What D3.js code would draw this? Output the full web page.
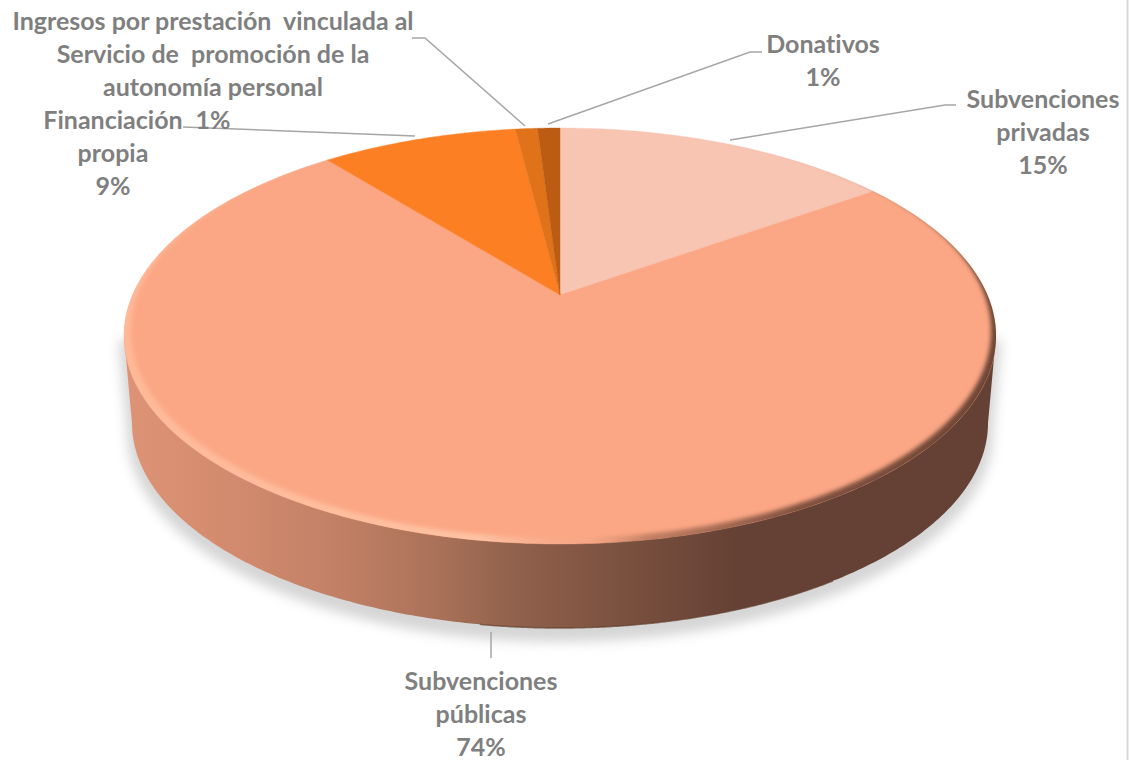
<!DOCTYPE html>
<html><head><meta charset="utf-8">
<style>html,body{margin:0;padding:0;background:#fff}svg{display:block}text{white-space:pre;font-variant-ligatures:none}</style>
<script src="https://cdn.jsdelivr.net/npm/d3@7/dist/d3.min.js"></script>
</head><body><svg id="c" width="1129" height="760"></svg>
<script>
const categories=["Subvenciones privadas","Subvenciones públicas","Financiación propia","Ingresos por prestación vinculada al Servicio de promoción de la autonomía personal","Donativos"];
const values=[15.2,74,8.8,1,1];
const sliceColors=["#F9C5B3","#FBA785","#FD7F23","#E0731A","#BC5C13"];
const labelLines=[
 ["Subvenciones","privadas","15%"],
 ["Subvenciones","públicas","74%"],
 ["Financiación","propia","9%"],
 ["Ingresos por prestación  vinculada al","Servicio de  promoción de la","autonomía personal","1%"],
 ["Donativos","1%"]];
const labelPos=[[1043,108],[481,690],[113,129],[213,30],[823,53]];
const leaders=[
 [[956,105],[945,105],[730,140]],
 [[491,632],[491,658]],
 [[183,127],[415,136]],
 [[412,38],[425,38],[525,126]],
 [[762,52],[750,52],[548,124]]];

const W=1129,H=760,cx=560,cy=336,rx=436,ry=208,apexY=295;
const bcx=560,bcy=423,brx=428,bry=205;
const a=(apexY-cy)/ry;
const svg=d3.select("#c");
const defs=svg.append("defs");
function proj(th,r=1){const x=r*Math.sin(th),y=-r*Math.cos(th),d=1+a*y;
 return [cx+rx*x*Math.sqrt(1-a*a)/d, cy+ry*(y+a)/d];}
const line=d3.line();
const ell=(x0,y0,rxx,ryy,t0,t1)=>d3.range(0,241).map(i=>{const t=t0+(t1-t0)*i/240;return [x0+rxx*Math.cos(t),y0+ryy*Math.sin(t)];});
const full=(x0,y0,rxx,ryy)=>line(ell(x0,y0,rxx,ryy,0,2*Math.PI))+"Z";

const f1=defs.append("filter").attr("id","sh").attr("x","-10%").attr("y","-10%").attr("width","120%").attr("height","120%");
f1.append("feGaussianBlur").attr("stdDeviation",6);
const f2=defs.append("filter").attr("id","bv").attr("x","-5%").attr("y","-5%").attr("width","110%").attr("height","110%");
f2.append("feGaussianBlur").attr("stdDeviation",2);
function grad(id,stops,x1,x2){const g=defs.append("linearGradient").attr("id",id).attr("gradientUnits","userSpaceOnUse").attr("x1",x1).attr("x2",x2).attr("y1",0).attr("y2",0);
 stops.forEach(s=>g.append("stop").attr("offset",(s[0]-x1)/(x2-x1)).attr("stop-color",s[1]).attr("stop-opacity",s[2]==null?1:s[2]));}
grad("side",[[124,"#DE9376"],[240,"#D18A6D"],[340,"#C18066"],[430,"#AC735A"],[510,"#92624C"],[600,"#7F5442"],[680,"#70493A"],[740,"#644134"],[996,"#644134"]],124,996);
grad("rim",[[124,"#FFC0A0",.7],[480,"#FFC8A8",.85],[590,"#F0A484",.3],[650,"#7A4C3A",.45],[800,"#6A4233",.85],[996,"#5E3A2C",.9]],124,996);

const sideOutline=[[cx+rx,cy],...ell(bcx,bcy,brx,bry,0,Math.PI),[cx-rx,cy]];
svg.append("path").attr("d",line(sideOutline)+"Z").attr("transform","translate(0,9)").attr("fill","#c4c4c4").attr("stroke","#c4c4c4").attr("stroke-width",10).attr("filter","url(#sh)").attr("opacity",.7);
svg.append("path").attr("d",line(sideOutline)+"Z").attr("fill","url(#side)");
svg.append("path").attr("d",line(ell(bcx,bcy,brx,bry,Math.PI*.28,Math.PI*.56))).attr("fill","none").attr("stroke","#643E2F").attr("stroke-width",1.5).attr("opacity",.7);

const pie=d3.pie().sort(null).value(d=>d);
const arcs=pie(values);
const g=svg.append("g");
arcs.forEach((d,i)=>{
 const n=Math.max(8,Math.ceil((d.endAngle-d.startAngle)*80));
 const pts=[proj(0,0),...d3.range(n+1).map(k=>proj(d.startAngle+(d.endAngle-d.startAngle)*k/n))];
 g.append("path").attr("d",line(pts)+"Z").attr("fill",sliceColors[i]).attr("stroke",sliceColors[i]).attr("stroke-width",.4);
});
defs.append("clipPath").attr("id","topc").append("path").attr("d",full(cx,cy,rx,ry));
svg.append("g").attr("clip-path","url(#topc)").append("path")
 .attr("d",full(cx,cy,rx+8,ry+8)+full(cx+1,cy-5,rx-6,ry-1)).attr("fill-rule","evenodd").attr("fill","url(#rim)").attr("filter","url(#bv)");

leaders.forEach(p=>svg.append("path").attr("d",line(p)).attr("fill","none").attr("stroke","#A6A6A6").attr("stroke-width",1.5));
labelLines.forEach((ls,i)=>{
 const t=svg.append("text").attr("text-anchor","middle").attr("font-family","Lato, 'Open Sans', sans-serif").attr("font-weight",700).attr("font-size",25).attr("fill","#7F7F7F");
 ls.forEach((s,j)=>t.append("tspan").attr("x",labelPos[i][0]).attr("y",labelPos[i][1]+j*33).text(s));
});
svg.append("line").attr("x1",1127.5).attr("x2",1127.5).attr("y1",0).attr("y2",H).attr("stroke","#D9D9D9").attr("stroke-width",2);
</script></body></html>
